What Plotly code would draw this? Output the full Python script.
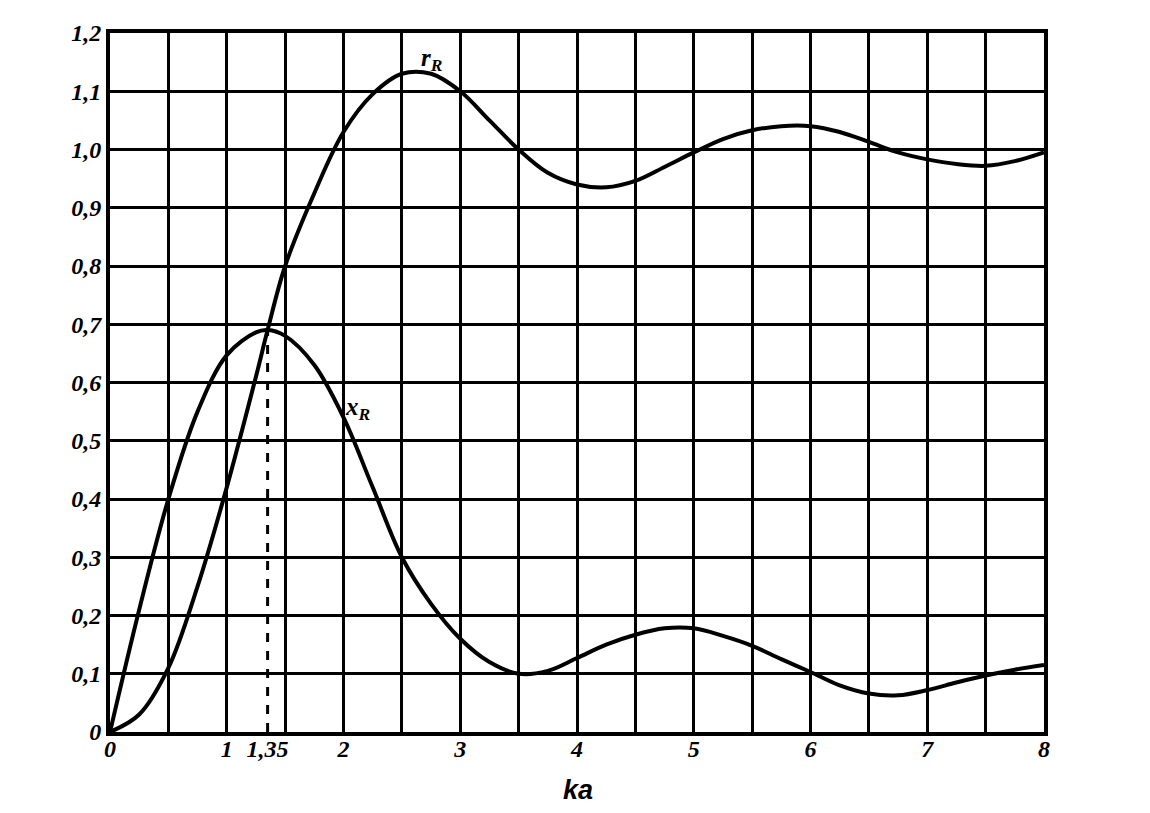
import plotly.graph_objects as go

# values
ka = [0, 0.25, 0.5, 0.75, 1.0, 1.25, 1.35, 1.5, 1.75, 2.0, 2.25, 2.5, 2.75, 3.0, 3.25,
      3.5, 3.75, 4.0, 4.25, 4.5, 4.75, 5.0, 5.25, 5.5, 5.75, 6.0, 6.25, 6.5, 6.75,
      7.0, 7.25, 7.5, 7.75, 8.0]
r_R = [0, 0.03, 0.11, 0.25, 0.42, 0.61, 0.69, 0.80, 0.925, 1.03, 1.095, 1.13, 1.13, 1.10, 1.05,
       1.00, 0.96, 0.94, 0.935, 0.946, 0.97, 0.995, 1.018, 1.033, 1.04, 1.04, 1.03, 1.013, 0.995,
       0.983, 0.975, 0.972, 0.98, 0.995]
x_R = [0, 0.21, 0.40, 0.55, 0.647, 0.686, 0.69, 0.68, 0.63, 0.54, 0.42, 0.30, 0.22, 0.16, 0.12,
       0.10, 0.105, 0.127, 0.15, 0.167, 0.178, 0.178, 0.165, 0.148, 0.125, 0.103, 0.08, 0.066, 0.063,
       0.072, 0.085, 0.097, 0.107, 0.115]

x_ticks = [0, 1, 1.35, 2, 3, 4, 5, 6, 7, 8]
x_ticktext = ["0", "1", "1,35", "2", "3", "4", "5", "6", "7", "8"]
y_ticks = [0, 0.1, 0.2, 0.3, 0.4, 0.5, 0.6, 0.7, 0.8, 0.9, 1.0, 1.1, 1.2]
y_ticktext = ["0", "0,1", "0,2", "0,3", "0,4", "0,5", "0,6", "0,7", "0,8", "0,9", "1,0", "1,1", "1,2"]

marker_ka = [1.35, 1.35]
marker_y = [0, 0.69]

tick_font = dict(family="Liberation Serif", size=24, color="black", style="italic", weight="bold")

fig = go.Figure()
fig.add_trace(go.Scatter(x=ka, y=r_R, mode="lines", line=dict(color="black", width=4, shape="spline"),
                         showlegend=False))
fig.add_trace(go.Scatter(x=ka, y=x_R, mode="lines", line=dict(color="black", width=4, shape="spline"),
                         showlegend=False))
fig.add_trace(go.Scatter(x=marker_ka, y=marker_y, mode="lines", xaxis="x2", yaxis="y",
                         line=dict(color="black", width=3, dash="dash"), showlegend=False))

fig.add_annotation(x=2.75, y=1.155, text="<i>r<sub>R</sub></i>", showarrow=False,
                   font=dict(family="Liberation Serif", size=25, color="black", weight="bold"))
fig.add_annotation(x=2.12, y=0.555, text="<i>x<sub>R</sub></i>", showarrow=False,
                   font=dict(family="Liberation Serif", size=25, color="black", weight="bold"))
fig.add_annotation(x=0.501, y=-0.083, xref="paper", yref="paper", yanchor="middle",
                   text="<i>ka</i>", showarrow=False,
                   font=dict(family="Liberation Sans", size=27, color="black", weight="bold"))

fig.update_layout(
    width=1150, height=813,
    margin=dict(l=102, r=114, t=25, b=89),
    paper_bgcolor="white", plot_bgcolor="white",
    xaxis=dict(range=[0, 8], tickmode="linear", tick0=0, dtick=0.5, showticklabels=False,
               showgrid=True, gridcolor="black", gridwidth=3, zeroline=False,
               showline=True, linecolor="black", linewidth=4, mirror=True, ticks=""),
    xaxis2=dict(range=[0, 8], overlaying="x", side="bottom", anchor="y",
                tickmode="array", tickvals=x_ticks, ticktext=x_ticktext, tickfont=tick_font,
                showgrid=False, zeroline=False, showline=False, ticks=""),
    yaxis=dict(range=[0, 1.2], tickmode="array", tickvals=y_ticks, ticktext=y_ticktext,
               tickfont=tick_font, showgrid=True, gridcolor="black", gridwidth=3, zeroline=False,
               showline=True, linecolor="black", linewidth=4, mirror=True, ticks=""),
)

fig.write_html("out.html")
